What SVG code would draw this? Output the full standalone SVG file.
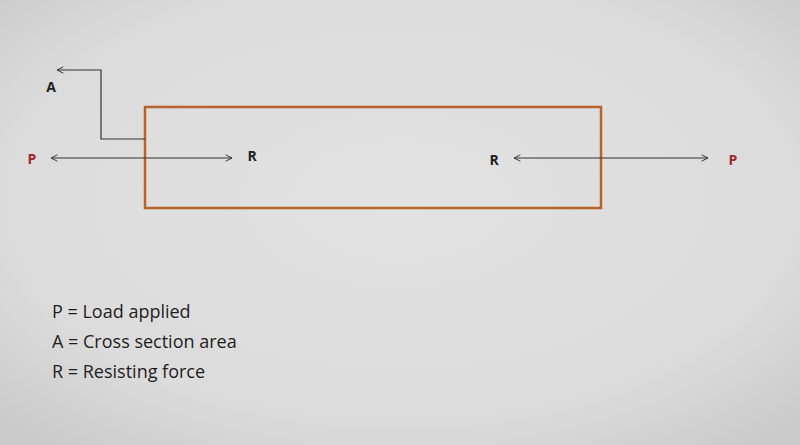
<svg xmlns="http://www.w3.org/2000/svg" width="800" height="445" viewBox="0 0 800 445">
<defs>
<radialGradient id="bg" cx="50%" cy="45%" r="70%">
<stop offset="0" stop-color="#e2e2e2"/>
<stop offset="0.7" stop-color="#dcdcdc"/>
<stop offset="1" stop-color="#cbcbcb"/>
</radialGradient>
<marker id="open" viewBox="0 0 10 10" refX="9" refY="5" markerWidth="8" markerHeight="8" orient="auto-start-reverse" markerUnits="userSpaceOnUse">
<path d="M1,1 L9,5 L1,9" fill="none" stroke="#333" stroke-width="1.2"/>
</marker>
<style>
.lbl{font-family:"Open Sans","Liberation Sans",sans-serif;font-weight:bold;font-size:14px;fill:#222;text-anchor:middle}
.p{fill:#a3262b}
.leg{font-family:"Open Sans","Liberation Sans",sans-serif;font-size:18px;fill:#1e1e1e}
.con{fill:none;stroke:#333;stroke-width:1.2}
</style>
</defs>
<rect width="800" height="445" fill="url(#bg)"/>
<g id="bar">
<rect x="145" y="107" width="456" height="101" fill="none" stroke="#b8622c" stroke-width="2.5"/>
</g>
<g id="connectors">
<line class="con" x1="51" y1="158" x2="232" y2="158" marker-start="url(#open)" marker-end="url(#open)"/>
<line class="con" x1="514" y1="158" x2="708" y2="158" marker-start="url(#open)" marker-end="url(#open)"/>
<polyline class="con" points="145,139 101,139 101,70 57,70" marker-end="url(#open)"/>
</g>
<g id="label-A"><text class="lbl" x="51" y="92">A</text></g>
<g id="label-P-left"><text class="lbl p" x="32" y="164">P</text></g>
<g id="label-R-left"><text class="lbl" x="252" y="161">R</text></g>
<g id="label-R-right"><text class="lbl" x="494" y="165">R</text></g>
<g id="label-P-right"><text class="lbl p" x="733" y="165">P</text></g>
<g id="legend">
<text class="leg" x="52" y="318">P = Load applied</text>
<text class="leg" x="52" y="348">A = Cross section area</text>
<text class="leg" x="52" y="378">R = Resisting force</text>
</g>
</svg>
